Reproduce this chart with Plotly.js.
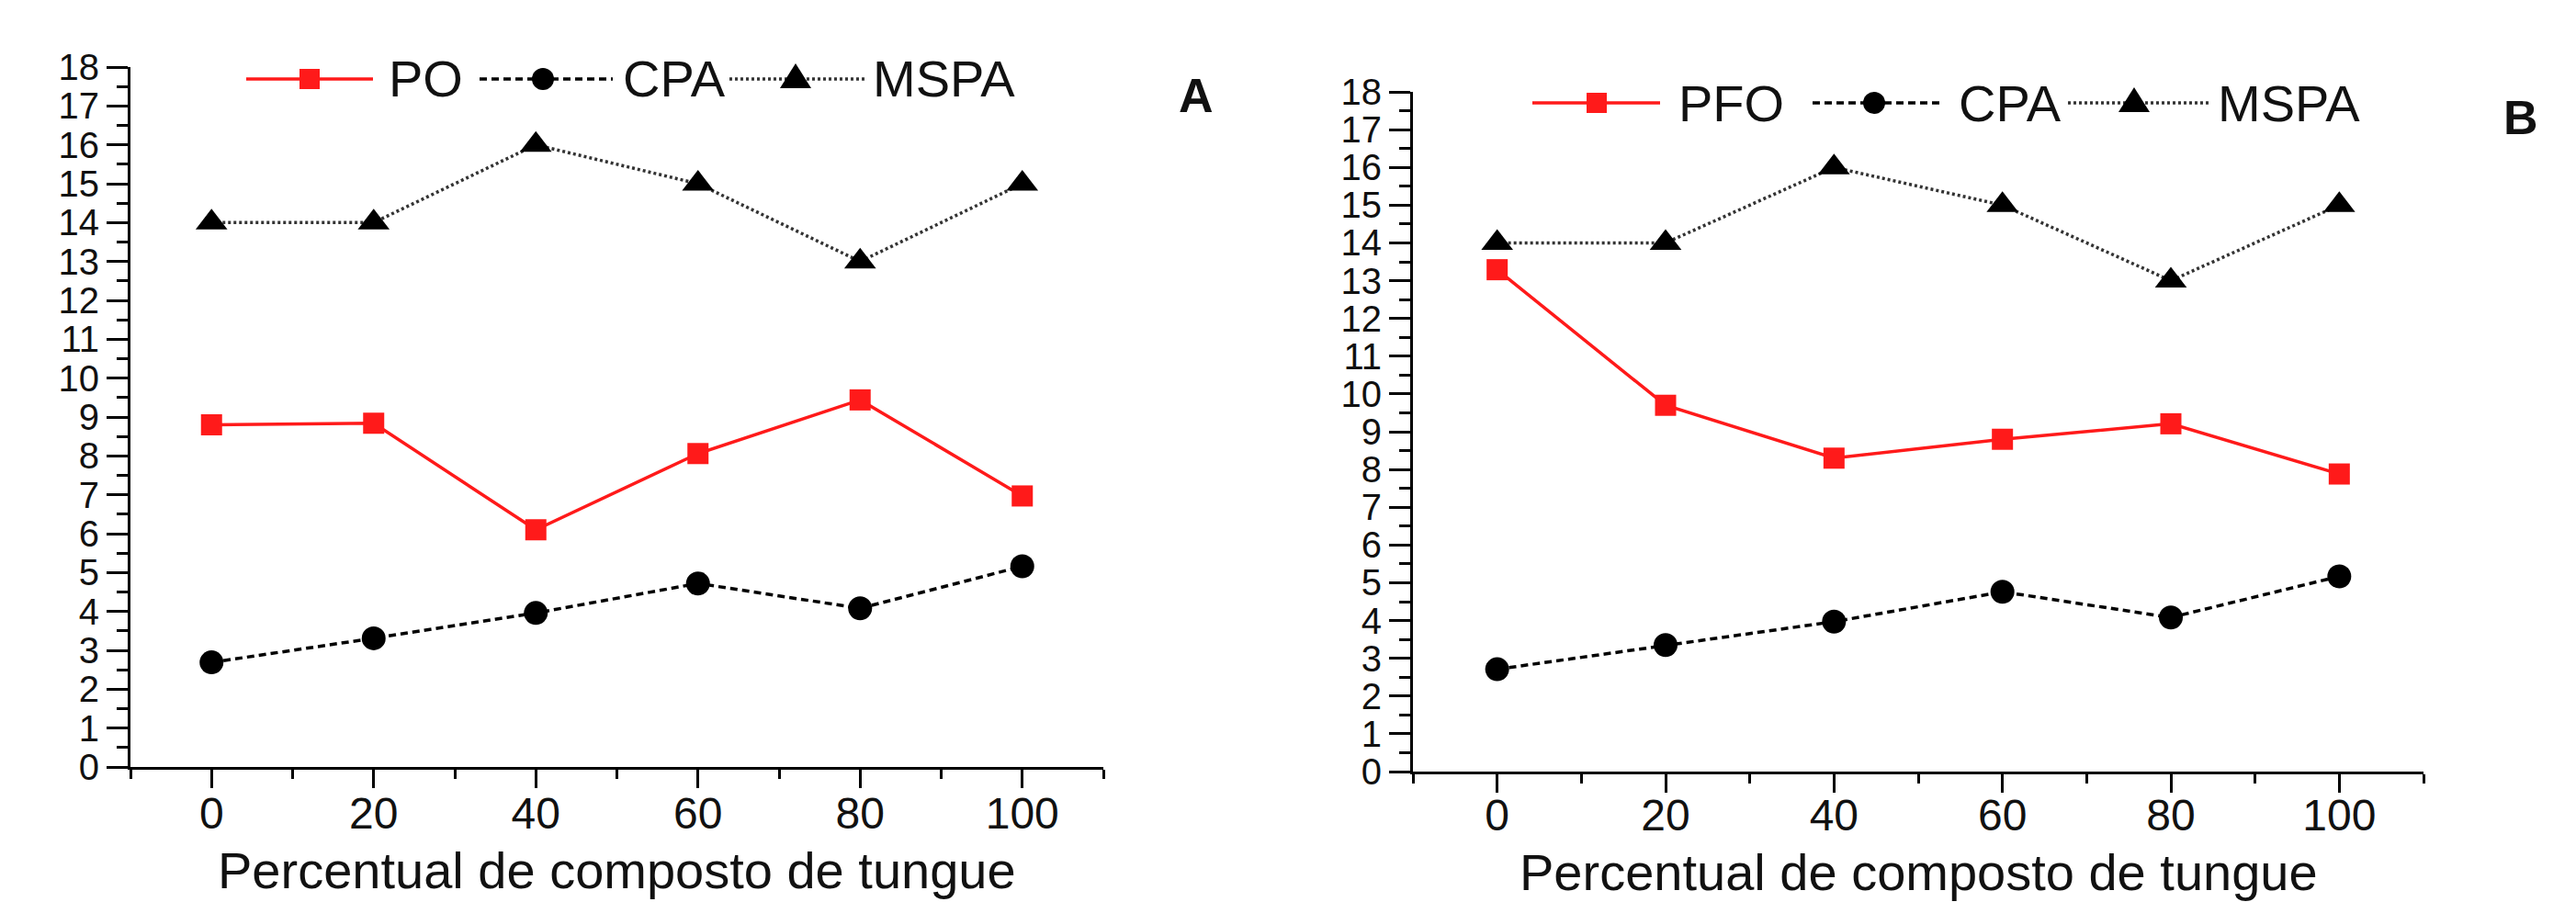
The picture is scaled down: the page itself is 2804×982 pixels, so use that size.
<!DOCTYPE html>
<html>
<head>
<meta charset="utf-8">
<script src="https://cdn.plot.ly/plotly-3.0.1.min.js"></script>
<style>
  html, body { margin: 0; padding: 0; background: #fff; }
  #chart { width: 2804px; height: 982px; }
</style>
</head>
<body>
<div id="chart"></div>
<script>
// ---------------- data ----------------
const xPercent = [0, 20, 40, 60, 80, 100];
const xTickLabels = ['0', '20', '40', '60', '80', '100'];
const yTickVals = [0, 1, 2, 3, 4, 5, 6, 7, 8, 9, 10, 11, 12, 13, 14, 15, 16, 17, 18];

// Panel A
const poA   = [8.80, 8.84, 6.10, 8.06, 9.44, 6.97];
const cpaA  = [2.69, 3.31, 3.96, 4.72, 4.08, 5.16];
const mspaA = [14, 14, 16, 15, 13, 15];
// Panel B
const pfoB  = [13.29, 9.70, 8.30, 8.80, 9.21, 7.88];
const cpaB  = [2.71, 3.35, 3.97, 4.76, 4.08, 5.17];
const mspaB = [14, 14, 16, 15, 13, 15];

const seriesNamesA = ['PO', 'CPA', 'MSPA'];
const seriesNamesB = ['PFO', 'CPA', 'MSPA'];
const xTitle = 'Percentual de composto de tungue';

// ---------------- styles ----------------
const W = 2804, H = 982;
const px = v => v / W;
const py = v => 1 - v / H;
const FONT = 'Liberation Sans, Arial, Helvetica, sans-serif';
const TXT = '#111';
const RED = '#ff1a1a';

const styles = [
  { color: RED, dash: 'solid', width: 3.5, symbol: 'square', msize: 23 },
  { color: '#000', dash: '8px,5px', width: 3.5, symbol: 'circle', msize: 26 },
  { color: '#333', dash: '3px,3px', width: 3.5, symbol: 'triangle-up', msize: 30 }
];

function trace(y, s, xa, ya) {
  return {
    x: xPercent, y: y, xaxis: xa, yaxis: ya, type: 'scatter', mode: 'lines+markers',
    showlegend: false, cliponaxis: false,
    line: { color: s.color, dash: s.dash, width: s.width },
    marker: { symbol: s.symbol, size: s.msize, color: s.symbol === 'square' ? RED : '#000', line: { width: 0 } }
  };
}

const data = [
  trace(mspaA, styles[2], 'x', 'y'),
  trace(cpaA, styles[1], 'x', 'y'),
  trace(poA, styles[0], 'x', 'y'),
  trace(mspaB, styles[2], 'x2', 'y2'),
  trace(cpaB, styles[1], 'x2', 'y2'),
  trace(pfoB, styles[0], 'x2', 'y2')
];

function xAxis(domain, anchor, standoff) {
  return {
    domain: domain, anchor: anchor, range: [-10, 110],
    showline: true, linecolor: '#000', linewidth: 3, mirror: false,
    showgrid: false, zeroline: false,
    tickmode: 'array', tickvals: xPercent, ticktext: xTickLabels,
    ticks: 'outside', ticklen: 20, tickwidth: 3, tickcolor: '#000',
    minor: { ticks: 'outside', dtick: 10, tick0: 0, ticklen: 10, tickwidth: 3, tickcolor: '#000', showgrid: false },
    tickfont: { family: FONT, size: 48, color: TXT },
    ticklabelstandoff: standoff
  };
}
function yAxis(domain, anchor) {
  return {
    domain: domain, anchor: anchor, range: [0, 18],
    showline: true, linecolor: '#000', linewidth: 3, mirror: false,
    showgrid: false, zeroline: false,
    tickmode: 'array', tickvals: yTickVals,
    ticks: 'outside', ticklen: 23, tickwidth: 3, tickcolor: '#000',
    minor: { ticks: 'outside', dtick: 0.5, tick0: 0, ticklen: 12, tickwidth: 3, tickcolor: '#000', showgrid: false },
    tickfont: { family: FONT, size: 40, color: TXT },
    ticklabelstandoff: 0
  };
}

// legend geometry (pixels): [lineStart, marker, lineEnd, textLeft]
const legendA = { y: 86, items: [[268, 337, 406, 421], [522, 591, 667, 676], [794, 866, 944, 948]] };
const legendB = { y: 112, items: [[1668, 1738, 1807, 1825], [1973, 2040, 2112, 2130], [2251, 2323, 2404, 2412]] };

const shapes = [];
const annotations = [];
function buildLegend(lg, names) {
  lg.items.forEach((it, i) => {
    const s = styles[i];
    shapes.push({ type: 'line', xref: 'paper', yref: 'paper', x0: px(it[0]), x1: px(it[2]), y0: py(lg.y), y1: py(lg.y),
      line: { color: s.color, width: s.width, dash: s.dash } });
    const base = { xref: 'paper', yref: 'paper', xsizemode: 'pixel', ysizemode: 'pixel',
      xanchor: px(it[1]), yanchor: py(lg.y), line: { width: 0 } };
    if (s.symbol === 'square') {
      shapes.push(Object.assign({}, base, { type: 'rect', x0: -11, x1: 11, y0: -11, y1: 11, fillcolor: RED }));
    } else if (s.symbol === 'circle') {
      shapes.push(Object.assign({}, base, { type: 'circle', x0: -12, x1: 12, y0: -12, y1: 12, fillcolor: '#000' }));
    } else {
      shapes.push(Object.assign({}, base, { type: 'path', path: 'M-17,-10 L17,-10 L0,17 Z', fillcolor: '#000' }));
    }
    annotations.push({ xref: 'paper', yref: 'paper', x: px(it[3]), y: py(lg.y), xanchor: 'left', yanchor: 'middle',
      text: names[i], showarrow: false, font: { family: FONT, size: 56, color: TXT } });
  });
}
buildLegend(legendA, seriesNamesA);
buildLegend(legendB, seriesNamesB);

// x-axis titles (placed as annotations for exact placement)
annotations.push({ xref: 'paper', yref: 'paper', x: px(671), y: py(947), xanchor: 'center', yanchor: 'middle',
  text: xTitle, showarrow: false, font: { family: FONT, size: 56, color: TXT } });
annotations.push({ xref: 'paper', yref: 'paper', x: px(2088), y: py(949), xanchor: 'center', yanchor: 'middle',
  text: xTitle, showarrow: false, font: { family: FONT, size: 56, color: TXT } });

// panel letters
annotations.push({ xref: 'paper', yref: 'paper', x: px(1302), y: py(104), xanchor: 'center', yanchor: 'middle',
  text: '<b>A</b>', showarrow: false, font: { family: FONT, size: 52, color: TXT } });
annotations.push({ xref: 'paper', yref: 'paper', x: px(2744), y: py(128), xanchor: 'center', yanchor: 'middle',
  text: '<b>B</b>', showarrow: false, font: { family: FONT, size: 52, color: TXT } });

const layout = {
  width: W, height: H,
  margin: { l: 0, r: 0, t: 0, b: 0, pad: 0 },
  paper_bgcolor: '#fff', plot_bgcolor: '#fff',
  showlegend: false,
  font: { family: FONT, color: TXT },
  xaxis: xAxis([px(142), px(1201)], 'y', -14),
  yaxis: yAxis([py(835), py(73)], 'x'),
  xaxis2: xAxis([px(1538), px(2638)], 'y2', -17),
  yaxis2: yAxis([py(840), py(100)], 'x2'),
  shapes: shapes,
  annotations: annotations
};

Plotly.newPlot('chart', data, layout, { staticPlot: true, displayModeBar: false });
</script>
</body>
</html>
